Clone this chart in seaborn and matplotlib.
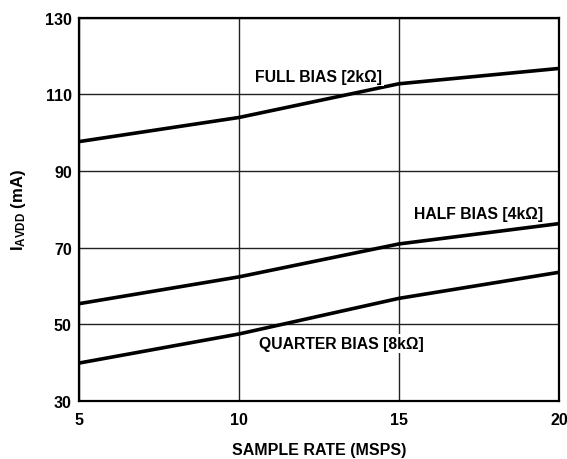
import matplotlib
matplotlib.use("Agg")
import matplotlib.pyplot as plt
import pandas as pd
import seaborn as sns

sample_rate = [5, 10, 15, 20]
full_bias = [97.7, 104.0, 112.8, 116.8]
half_bias = [55.4, 62.4, 71.0, 76.3]
quarter_bias = [39.9, 47.5, 56.8, 63.6]
series_names = ["FULL BIAS [2k\u03a9]", "HALF BIAS [4k\u03a9]", "QUARTER BIAS [8k\u03a9]"]
x_ticks = [5, 10, 15, 20]
y_ticks = [30, 50, 70, 90, 110, 130]

sns.set_style("white")
plt.rcParams["font.family"] = ["Liberation Sans", "DejaVu Sans"]
plt.rcParams["font.weight"] = "bold"
plt.rcParams["mathtext.fontset"] = "custom"
plt.rcParams["mathtext.rm"] = "Liberation Sans:bold"
plt.rcParams["mathtext.default"] = "rm"
plt.rcParams["text.color"] = "black"
plt.rcParams["axes.labelcolor"] = "black"
plt.rcParams["xtick.color"] = "black"
plt.rcParams["ytick.color"] = "black"

df = pd.concat([
    pd.DataFrame({"rate": sample_rate, "current": vals, "series": name})
    for name, vals in zip(series_names, [full_bias, half_bias, quarter_bias])
])

fig = plt.figure(figsize=(5.67, 4.60), dpi=100)
ax = fig.add_axes([0.139, 0.126, 0.847, 0.833])

sns.lineplot(data=df, x="rate", y="current", units="series", estimator=None,
             color="black", linewidth=2.6, ax=ax, legend=False, zorder=3)

ax.set_xlim(5, 20)
ax.set_ylim(30, 130)
ax.set_xticks(x_ticks)
ax.set_yticks(y_ticks)
ax.grid(True, color="#222222", linewidth=1.0)
ax.tick_params(axis="y", length=0, labelsize=11.5, pad=5)
ax.tick_params(axis="x", length=0, labelsize=11.5, pad=8)
for lbl in ax.get_xticklabels() + ax.get_yticklabels():
    lbl.set_fontweight("bold")
for s in ax.spines.values():
    s.set_color("black")
    s.set_linewidth(1.6)

ax.set_xlabel("SAMPLE RATE (MSPS)", fontsize=11.5, fontweight="bold", labelpad=11)
ax.set_ylabel("I$_{AVDD}$ (mA)", fontsize=12, fontweight="bold", labelpad=12)

label_pos = [(12.5, 114.8), (17.5, 78.9), (13.2, 45.0)]
for name, (lx, ly) in zip(series_names, label_pos):
    ax.text(lx, ly, name, ha="center", va="center", fontsize=11.3, fontweight="bold",
            zorder=4, bbox=dict(facecolor="white", edgecolor="none", pad=1.5))

fig.savefig("out.png", dpi=100)
